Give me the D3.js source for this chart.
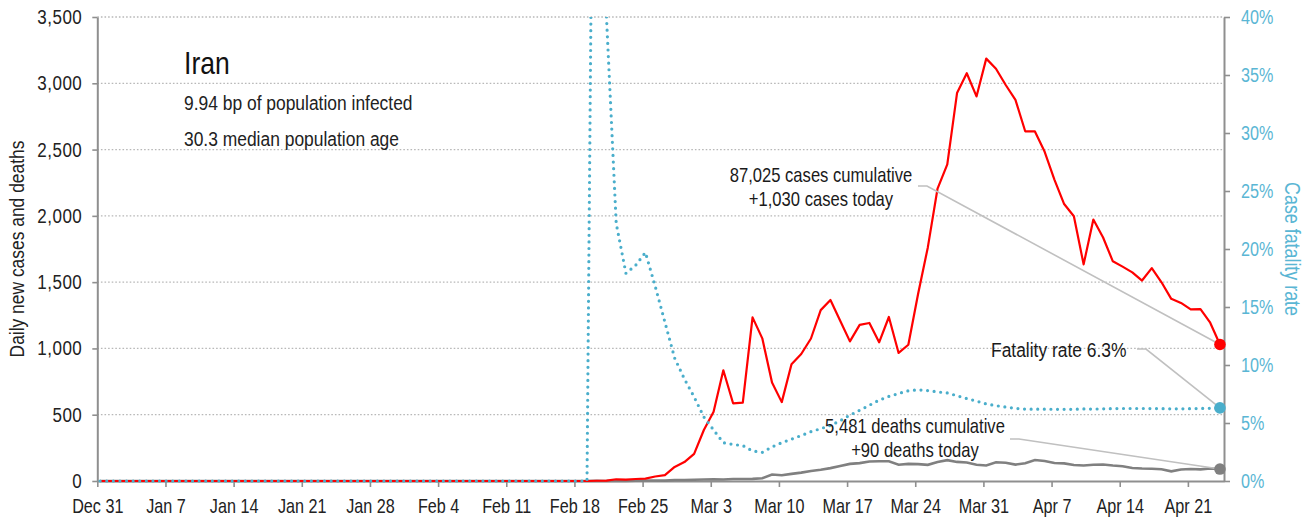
<!DOCTYPE html>
<html>
<head>
<meta charset="utf-8">
<script src="https://cdn.jsdelivr.net/npm/d3@7"></script>
<style>
  body { margin: 0; background: #fff; }
  svg text { font-family: "Liberation Sans", Arial, sans-serif; }
</style>
</head>
<body>
<div id="chart"></div>
<script>
var svgWidth = 1311;
var svgHeight = 520;

var margin = { top: 17, right: 87, bottom: 39, left: 97.3 };

var width = svgWidth - margin.left - margin.right;
var height = svgHeight - margin.top - margin.bottom;

// ---- data (ECDC style dates, one value per day from Dec 31) ----
var firstDay = "2019-12-31";
var lastDayEnd = "2020-04-24T17:00:00Z";

var dailyCases = [
  0,0,0,0,0,0,0,0,0,0, 0,0,0,0,0,0,0,0,0,0, 0,0,0,0,0,0,0,0,0,0,
  0,0,0,0,0,0,0,0,0,0, 0,0,0,0,0,0,0,0,0,0, 0,
  2, 3, 13, 10, 15, 18, 34, 44, 106, 143,
  205, 385, 523, 835, 586, 591, 1234, 1076, 743, 595,
  881, 958, 1075, 1289, 1365, 1209, 1053, 1178, 1192, 1046,
  1237, 966, 1028, 1411, 1762, 2206, 2389, 2926, 3076, 2901, 3186,
  3110, 2987, 2875, 2638, 2637, 2483, 2274, 2089, 1997, 1634,
  1972, 1837, 1657, 1617, 1574, 1512, 1606, 1499, 1374, 1343,
  1294, 1297, 1194, 1030
];

var dailyDeaths = [
  0,0,0,0,0,0,0,0,0,0, 0,0,0,0,0,0,0,0,0,0, 0,0,0,0,0,0,0,0,0,0,
  0,0,0,0,0,0,0,0,0,0, 0,0,0,0,0,0,0,0,0,0, 0,
  2, 0, 2, 1, 3, 4, 4, 3, 7, 8,
  9, 11, 12, 11, 15, 15, 16, 21, 49, 43,
  54, 63, 75, 85, 97, 113, 129, 135, 147, 149,
  149, 123, 129, 127, 122, 143, 157, 144, 139, 123, 117,
  141, 138, 124, 134, 158, 151, 136, 133, 121, 117,
  122, 125, 117, 111, 98, 94, 92, 89, 73, 87,
  91, 88, 94, 90
];

// case fatality rate, percent
var fatalityRate = [
  0,0,0,0,0,0,0,0,0,0, 0,0,0,0,0,0,0,0,0,0, 0,0,0,0,0,0,0,0,0,0,
  0,0,0,0,0,0,0,0,0,0, 0,0,0,0,0,0,0,0,0,0, 0,
  100, 40.0, 22.2, 17.9, 18.6, 19.7, 16.8, 13.7, 10.6, 8.8,
  7.25, 5.52, 4.40, 3.30, 3.15, 3.05, 2.59, 2.47, 2.94, 3.30,
  3.61, 3.92, 4.25, 4.51, 4.79, 5.19, 5.68, 6.10, 6.53, 6.97,
  7.29, 7.54, 7.78, 7.86, 7.79, 7.68, 7.59, 7.35, 7.11, 6.89, 6.64,
  6.49, 6.38, 6.26, 6.20, 6.19, 6.19, 6.18, 6.18, 6.18, 6.21,
  6.20, 6.22, 6.24, 6.25, 6.25, 6.25, 6.24, 6.24, 6.22, 6.22,
  6.24, 6.25, 6.27, 6.30
];

var tickDates = ["2019-12-31", "2020-01-07", "2020-01-14", "2020-01-21", "2020-01-28",
  "2020-02-04", "2020-02-11", "2020-02-18", "2020-02-25", "2020-03-03", "2020-03-10",
  "2020-03-17", "2020-03-24", "2020-03-31", "2020-04-07", "2020-04-14", "2020-04-21"];
var leftTicks = [0, 500, 1000, 1500, 2000, 2500, 3000, 3500];
var rightTicks = [0, 5, 10, 15, 20, 25, 30, 35, 40];

var country = "Iran";
var infoLines = ["9.94 bp of population infected", "30.3 median population age"];
var casesNote = ["87,025 cases cumulative", "+1,030 cases today"];
var deathsNote = ["5,481 deaths cumulative", "+90 deaths today"];
var rateNote = "Fatality rate 6.3%";

var redColor = "#ff0000";
var blueColor = "#4aaecb";
var greyColor = "#808080";
var narrow = 0.83; // squeeze Liberation Sans into a condensed look

// points sit a few hours into their day
var start = new Date(firstDay + "T07:00:00Z");
var rows = dailyCases.map(function(c, i) {
  return { date: d3.utcDay.offset(start, i), cases: c, deaths: dailyDeaths[i], rate: fatalityRate[i] };
});
var last = rows[rows.length - 1];

function condense(sel) {
  sel.each(function() {
    var t = d3.select(this);
    var x0 = +t.attr("x") || 0;
    var prev = t.attr("transform") || "";
    t.attr("x", 0).attr("transform", `${prev} translate(${x0},0) scale(${narrow},1)`);
  });
}

var svg = d3.select("#chart")
  .append("svg")
  .attr("width", svgWidth)
  .attr("height", svgHeight);

svg.append("defs").append("clipPath")
  .attr("id", "plotclip")
  .append("rect")
  .attr("x", -2).attr("y", 0)
  .attr("width", width + 4).attr("height", height + 6);

var chartGroup = svg.append("g")
  .attr("transform", `translate(${margin.left}, ${margin.top})`);

// scales
var x = d3.scaleUtc()
  .domain([new Date(firstDay + "T00:00:00Z"), new Date(lastDayEnd)])
  .range([0, width]);

var y = d3.scaleLinear().domain([0, 3500]).range([height, 0]);
var yRate = d3.scaleLinear().domain([0, 40]).range([height, 0]);

// gridlines
chartGroup.append("g")
  .selectAll("line")
  .data(leftTicks.filter(d => d > 0))
  .enter()
  .append("line")
  .attr("x1", 0).attr("x2", width)
  .attr("y1", d => y(d)).attr("y2", d => y(d))
  .attr("stroke", "#b8b8b8")
  .attr("stroke-width", 1.3)
  .attr("stroke-dasharray", "1.6,2");

// axes
var leftAxis = d3.axisLeft(y).tickValues(leftTicks).tickSize(5).tickSizeOuter(0)
  .tickPadding(10).tickFormat(d3.format(","));
var rightAxis = d3.axisRight(yRate).tickValues(rightTicks).tickSize(6).tickSizeOuter(0)
  .tickPadding(11).tickFormat(d => d + "%");
var bottomAxis = d3.axisBottom(x).tickValues(tickDates.map(d => new Date(d + "T00:00:00Z")))
  .tickSize(6).tickSizeOuter(0).tickPadding(12).tickFormat(d3.utcFormat("%b %-d"));

var gLeft = chartGroup.append("g").call(leftAxis);
var gRight = chartGroup.append("g").attr("transform", `translate(${width}, 0)`).call(rightAxis);
var gBottom = chartGroup.append("g").attr("transform", `translate(0, ${height})`).call(bottomAxis);

[gLeft, gRight, gBottom].forEach(function(g) {
  g.select(".domain").attr("stroke", "#8f8f8f").attr("stroke-width", 2);
  g.selectAll(".tick line").attr("stroke", "#8f8f8f").attr("stroke-width", 1.6);
  g.selectAll(".tick text").attr("font-size", 19.5).attr("fill", "#222").attr("font-family", null);
  condense(g.selectAll(".tick text"));
});
gLeft.selectAll(".tick text").attr("font-size", 20.5).attr("letter-spacing", 0.6);
gRight.selectAll(".tick text").attr("fill", "#5ab6d4");

// lines
var lines = chartGroup.append("g").attr("clip-path", "url(#plotclip)");

lines.append("path")
  .datum(rows)
  .attr("fill", "none")
  .attr("stroke", greyColor)
  .attr("stroke-width", 2.6)
  .attr("d", d3.line().x(d => x(d.date)).y(d => y(d.deaths)));

lines.append("path")
  .datum(rows)
  .attr("fill", "none")
  .attr("stroke", redColor)
  .attr("stroke-width", 2.2)
  .attr("stroke-linejoin", "round")
  .attr("d", d3.line().x(d => x(d.date)).y(d => y(d.cases)));

lines.append("path")
  .datum(rows)
  .attr("fill", "none")
  .attr("stroke", blueColor)
  .attr("stroke-width", 3.2)
  .attr("stroke-linecap", "round")
  .attr("stroke-dasharray", "0,6.6")
  .attr("d", d3.line().x(d => x(d.date)).y(d => yRate(d.rate)));

// title block
chartGroup.append("text")
  .attr("x", 184 - margin.left).attr("y", 74 - margin.top)
  .attr("font-size", 32).attr("fill", "#111")
  .text(country);

chartGroup.selectAll(".info")
  .data(infoLines)
  .enter()
  .append("text")
  .attr("class", "info")
  .attr("x", 184 - margin.left)
  .attr("y", (d, i) => 110 - margin.top + i * 36)
  .attr("font-size", 21).attr("fill", "#222")
  .text(d => d);

// annotations with leader lines
function note(linesText, cx, baseY, lead, target, anchor, size) {
  chartGroup.append("path")
    .attr("fill", "none")
    .attr("stroke", "#c0c0c0")
    .attr("stroke-width", 1.6)
    .attr("d", `M${lead[0]},${lead[1]}H${lead[0] + 9}L${target[0]},${target[1]}`);
  linesText.forEach(function(t, i) {
    chartGroup.append("text")
      .attr("class", "note")
      .attr("x", cx).attr("y", baseY + i * 24)
      .attr("text-anchor", anchor || "middle")
      .attr("font-size", size || 20).attr("fill", "#1a1a1a")
      .text(t);
  });
}

var xEnd = x(last.date);
note(casesNote, 821 - margin.left, 182 - margin.top, [918 - margin.left, 186 - margin.top], [xEnd, y(last.cases)]);
note([rateNote], 991 - margin.left, 357 - margin.top, [1137 - margin.left, 349 - margin.top], [xEnd, yRate(last.rate)], "start", 21);
note(deathsNote, 915 - margin.left, 433 - margin.top, [1010 - margin.left, 439 - margin.top], [xEnd, y(last.deaths)]);

// end dots
chartGroup.append("circle").attr("cx", xEnd).attr("cy", y(last.cases)).attr("r", 5.8).attr("fill", redColor);
chartGroup.append("circle").attr("cx", xEnd).attr("cy", yRate(last.rate)).attr("r", 5.8).attr("fill", blueColor);
chartGroup.append("circle").attr("cx", xEnd).attr("cy", y(last.deaths)).attr("r", 5.8).attr("fill", greyColor);

// axis titles
svg.append("text")
  .attr("class", "axis-title")
  .attr("transform", `translate(24, ${margin.top + height / 2}) rotate(-90)`)
  .attr("text-anchor", "middle")
  .attr("font-size", 21).attr("fill", "#222")
  .text("Daily new cases and deaths");

svg.append("text")
  .attr("class", "axis-title")
  .attr("transform", `translate(1285, ${margin.top + height / 2}) rotate(90)`)
  .attr("text-anchor", "middle")
  .attr("font-size", 21.5).attr("fill", "#5ab6d4")
  .text("Case fatality rate");

condense(svg.selectAll("g > text").filter(function() { return !this.closest(".tick"); }));
condense(svg.selectAll(".axis-title"));
</script>
</body>
</html>
